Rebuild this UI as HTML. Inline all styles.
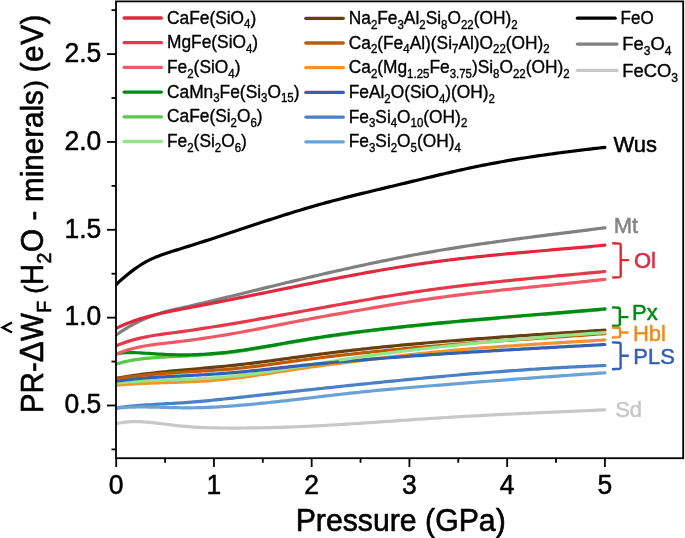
<!DOCTYPE html>
<html><head><meta charset="utf-8"><title>chart</title>
<style>html,body{margin:0;padding:0;background:#fff;}body{width:685px;height:538px;overflow:hidden;font-family:"Liberation Sans",sans-serif;}</style>
</head><body>
<svg width="685" height="538" viewBox="0 0 685 538" font-family='"Liberation Sans", sans-serif' style="display:block;will-change:transform">
<rect x="0" y="0" width="685" height="538" fill="#fff"/>
<defs><clipPath id="pc"><rect x="116.0" y="1.4" width="567.2" height="456.8"/></clipPath></defs>
<g fill="none" stroke-width="3.2" stroke-linecap="round" stroke-linejoin="round" clip-path="url(#pc)">
<path d="M116.2,423.61 L119.2,423.04 L122.2,422.55 L125.2,422.14 L128.2,421.84 L131.2,421.63 L134.2,421.53 L137.2,421.54 L140.2,421.64 L143.2,421.82 L146.2,422.05 L149.2,422.32 L152.2,422.62 L155.2,422.95 L158.2,423.29 L161.2,423.65 L164.2,424.02 L167.2,424.39 L170.2,424.76 L173.2,425.13 L176.2,425.48 L179.2,425.82 L182.2,426.14 L185.2,426.43 L188.2,426.69 L191.2,426.92 L194.2,427.12 L197.2,427.30 L200.2,427.45 L203.2,427.58 L206.2,427.68 L209.2,427.77 L212.2,427.84 L215.2,427.90 L218.2,427.94 L221.2,427.98 L224.2,428.00 L227.2,428.02 L230.2,428.03 L233.2,428.04 L236.2,428.03 L239.2,428.03 L242.2,428.01 L245.2,427.99 L248.2,427.96 L251.2,427.93 L254.2,427.89 L257.2,427.84 L260.2,427.79 L263.2,427.74 L266.2,427.67 L269.2,427.61 L272.2,427.53 L275.2,427.45 L278.2,427.37 L281.2,427.28 L284.2,427.18 L287.2,427.08 L290.2,426.98 L293.2,426.87 L296.2,426.75 L299.2,426.63 L302.2,426.51 L305.2,426.38 L308.2,426.24 L311.2,426.10 L314.2,425.96 L317.2,425.81 L320.2,425.66 L323.2,425.51 L326.2,425.35 L329.2,425.18 L332.2,425.02 L335.2,424.85 L338.2,424.67 L341.2,424.49 L344.2,424.31 L347.2,424.12 L350.2,423.94 L353.2,423.74 L356.2,423.55 L359.2,423.35 L362.2,423.16 L365.2,422.96 L368.2,422.75 L371.2,422.55 L374.2,422.34 L377.2,422.14 L380.2,421.93 L383.2,421.72 L386.2,421.51 L389.2,421.30 L392.2,421.09 L395.2,420.88 L398.2,420.67 L401.2,420.46 L404.2,420.25 L407.2,420.04 L410.2,419.83 L413.2,419.63 L416.2,419.42 L419.2,419.22 L422.2,419.01 L425.2,418.81 L428.2,418.62 L431.2,418.42 L434.2,418.23 L437.2,418.04 L440.2,417.85 L443.2,417.66 L446.2,417.48 L449.2,417.30 L452.2,417.12 L455.2,416.95 L458.2,416.77 L461.2,416.60 L464.2,416.43 L467.2,416.27 L470.2,416.10 L473.2,415.94 L476.2,415.78 L479.2,415.62 L482.2,415.47 L485.2,415.31 L488.2,415.16 L491.2,415.01 L494.2,414.86 L497.2,414.71 L500.2,414.56 L503.2,414.42 L506.2,414.27 L509.2,414.13 L512.2,413.99 L515.2,413.85 L518.2,413.71 L521.2,413.57 L524.2,413.43 L527.2,413.29 L530.2,413.16 L533.2,413.02 L536.2,412.89 L539.2,412.75 L542.2,412.62 L545.2,412.48 L548.2,412.35 L551.2,412.22 L554.2,412.08 L557.2,411.95 L560.2,411.82 L563.2,411.68 L566.2,411.55 L569.2,411.42 L572.2,411.29 L575.2,411.15 L578.2,411.02 L581.2,410.88 L584.2,410.75 L587.2,410.61 L590.2,410.48 L593.2,410.34 L596.2,410.20 L599.2,410.07 L602.2,409.93 L604.9,409.80" stroke="#C8C8C8"/>
<path d="M116.2,335.05 L119.2,332.95 L122.2,330.94 L125.2,329.03 L128.2,327.21 L131.2,325.48 L134.2,323.85 L137.2,322.30 L140.2,320.86 L143.2,319.50 L146.2,318.22 L149.2,317.03 L152.2,315.92 L155.2,314.88 L158.2,313.91 L161.2,313.01 L164.2,312.16 L167.2,311.36 L170.2,310.60 L173.2,309.87 L176.2,309.17 L179.2,308.49 L182.2,307.81 L185.2,307.14 L188.2,306.46 L191.2,305.78 L194.2,305.08 L197.2,304.38 L200.2,303.68 L203.2,302.97 L206.2,302.25 L209.2,301.53 L212.2,300.81 L215.2,300.08 L218.2,299.35 L221.2,298.62 L224.2,297.89 L227.2,297.16 L230.2,296.43 L233.2,295.69 L236.2,294.96 L239.2,294.23 L242.2,293.49 L245.2,292.76 L248.2,292.03 L251.2,291.29 L254.2,290.56 L257.2,289.83 L260.2,289.10 L263.2,288.37 L266.2,287.64 L269.2,286.91 L272.2,286.18 L275.2,285.45 L278.2,284.73 L281.2,284.00 L284.2,283.28 L287.2,282.56 L290.2,281.84 L293.2,281.12 L296.2,280.40 L299.2,279.69 L302.2,278.98 L305.2,278.27 L308.2,277.56 L311.2,276.86 L314.2,276.15 L317.2,275.45 L320.2,274.76 L323.2,274.06 L326.2,273.37 L329.2,272.68 L332.2,272.00 L335.2,271.31 L338.2,270.63 L341.2,269.96 L344.2,269.29 L347.2,268.62 L350.2,267.95 L353.2,267.29 L356.2,266.64 L359.2,265.98 L362.2,265.34 L365.2,264.69 L368.2,264.05 L371.2,263.42 L374.2,262.79 L377.2,262.16 L380.2,261.54 L383.2,260.92 L386.2,260.31 L389.2,259.71 L392.2,259.10 L395.2,258.51 L398.2,257.92 L401.2,257.33 L404.2,256.76 L407.2,256.18 L410.2,255.62 L413.2,255.05 L416.2,254.50 L419.2,253.95 L422.2,253.41 L425.2,252.87 L428.2,252.34 L431.2,251.82 L434.2,251.30 L437.2,250.79 L440.2,250.28 L443.2,249.78 L446.2,249.29 L449.2,248.80 L452.2,248.32 L455.2,247.84 L458.2,247.37 L461.2,246.90 L464.2,246.44 L467.2,245.98 L470.2,245.53 L473.2,245.08 L476.2,244.64 L479.2,244.20 L482.2,243.76 L485.2,243.33 L488.2,242.90 L491.2,242.48 L494.2,242.06 L497.2,241.64 L500.2,241.22 L503.2,240.81 L506.2,240.41 L509.2,240.00 L512.2,239.60 L515.2,239.20 L518.2,238.80 L521.2,238.41 L524.2,238.01 L527.2,237.62 L530.2,237.23 L533.2,236.85 L536.2,236.46 L539.2,236.08 L542.2,235.69 L545.2,235.31 L548.2,234.93 L551.2,234.56 L554.2,234.18 L557.2,233.80 L560.2,233.42 L563.2,233.05 L566.2,232.67 L569.2,232.30 L572.2,231.92 L575.2,231.54 L578.2,231.17 L581.2,230.79 L584.2,230.42 L587.2,230.04 L590.2,229.66 L593.2,229.28 L596.2,228.90 L599.2,228.52 L602.2,228.14 L604.9,227.80" stroke="#808080"/>
<path d="M116.2,284.45 L119.2,281.69 L122.2,279.03 L125.2,276.45 L128.2,273.98 L131.2,271.62 L134.2,269.37 L137.2,267.24 L140.2,265.25 L143.2,263.38 L146.2,261.66 L149.2,260.09 L152.2,258.66 L155.2,257.36 L158.2,256.16 L161.2,255.05 L164.2,254.00 L167.2,253.00 L170.2,252.02 L173.2,251.06 L176.2,250.12 L179.2,249.18 L182.2,248.25 L185.2,247.32 L188.2,246.39 L191.2,245.44 L194.2,244.50 L197.2,243.54 L200.2,242.58 L203.2,241.61 L206.2,240.64 L209.2,239.67 L212.2,238.69 L215.2,237.70 L218.2,236.72 L221.2,235.73 L224.2,234.74 L227.2,233.74 L230.2,232.75 L233.2,231.75 L236.2,230.76 L239.2,229.76 L242.2,228.77 L245.2,227.77 L248.2,226.77 L251.2,225.78 L254.2,224.79 L257.2,223.80 L260.2,222.82 L263.2,221.83 L266.2,220.85 L269.2,219.88 L272.2,218.91 L275.2,217.94 L278.2,216.98 L281.2,216.02 L284.2,215.07 L287.2,214.13 L290.2,213.19 L293.2,212.27 L296.2,211.34 L299.2,210.43 L302.2,209.53 L305.2,208.63 L308.2,207.75 L311.2,206.87 L314.2,206.00 L317.2,205.15 L320.2,204.31 L323.2,203.47 L326.2,202.65 L329.2,201.84 L332.2,201.03 L335.2,200.24 L338.2,199.45 L341.2,198.68 L344.2,197.90 L347.2,197.14 L350.2,196.38 L353.2,195.63 L356.2,194.89 L359.2,194.15 L362.2,193.41 L365.2,192.68 L368.2,191.95 L371.2,191.23 L374.2,190.51 L377.2,189.79 L380.2,189.07 L383.2,188.35 L386.2,187.64 L389.2,186.92 L392.2,186.21 L395.2,185.49 L398.2,184.77 L401.2,184.05 L404.2,183.33 L407.2,182.61 L410.2,181.88 L413.2,181.16 L416.2,180.43 L419.2,179.71 L422.2,178.98 L425.2,178.26 L428.2,177.54 L431.2,176.82 L434.2,176.10 L437.2,175.39 L440.2,174.68 L443.2,173.97 L446.2,173.27 L449.2,172.58 L452.2,171.89 L455.2,171.21 L458.2,170.53 L461.2,169.87 L464.2,169.21 L467.2,168.55 L470.2,167.91 L473.2,167.28 L476.2,166.65 L479.2,166.04 L482.2,165.44 L485.2,164.84 L488.2,164.26 L491.2,163.69 L494.2,163.12 L497.2,162.57 L500.2,162.02 L503.2,161.48 L506.2,160.95 L509.2,160.43 L512.2,159.92 L515.2,159.42 L518.2,158.92 L521.2,158.44 L524.2,157.96 L527.2,157.49 L530.2,157.02 L533.2,156.57 L536.2,156.12 L539.2,155.67 L542.2,155.24 L545.2,154.81 L548.2,154.39 L551.2,153.97 L554.2,153.56 L557.2,153.16 L560.2,152.76 L563.2,152.36 L566.2,151.98 L569.2,151.59 L572.2,151.22 L575.2,150.85 L578.2,150.48 L581.2,150.12 L584.2,149.76 L587.2,149.41 L590.2,149.06 L593.2,148.71 L596.2,148.37 L599.2,148.03 L602.2,147.70 L604.9,147.40" stroke="#000000"/>
<path d="M116.2,407.98 L119.2,407.55 L122.2,407.16 L125.2,406.80 L128.2,406.46 L131.2,406.15 L134.2,405.87 L137.2,405.61 L140.2,405.36 L143.2,405.14 L146.2,404.93 L149.2,404.73 L152.2,404.54 L155.2,404.36 L158.2,404.18 L161.2,404.01 L164.2,403.85 L167.2,403.68 L170.2,403.51 L173.2,403.34 L176.2,403.17 L179.2,402.98 L182.2,402.79 L185.2,402.59 L188.2,402.37 L191.2,402.15 L194.2,401.91 L197.2,401.65 L200.2,401.39 L203.2,401.12 L206.2,400.84 L209.2,400.55 L212.2,400.26 L215.2,399.96 L218.2,399.65 L221.2,399.34 L224.2,399.02 L227.2,398.70 L230.2,398.38 L233.2,398.05 L236.2,397.72 L239.2,397.40 L242.2,397.07 L245.2,396.74 L248.2,396.41 L251.2,396.09 L254.2,395.76 L257.2,395.43 L260.2,395.10 L263.2,394.77 L266.2,394.45 L269.2,394.12 L272.2,393.79 L275.2,393.46 L278.2,393.13 L281.2,392.81 L284.2,392.48 L287.2,392.15 L290.2,391.83 L293.2,391.50 L296.2,391.17 L299.2,390.85 L302.2,390.52 L305.2,390.20 L308.2,389.87 L311.2,389.55 L314.2,389.23 L317.2,388.90 L320.2,388.58 L323.2,388.26 L326.2,387.94 L329.2,387.62 L332.2,387.30 L335.2,386.98 L338.2,386.66 L341.2,386.34 L344.2,386.03 L347.2,385.71 L350.2,385.40 L353.2,385.09 L356.2,384.77 L359.2,384.46 L362.2,384.15 L365.2,383.84 L368.2,383.53 L371.2,383.23 L374.2,382.92 L377.2,382.62 L380.2,382.31 L383.2,382.01 L386.2,381.71 L389.2,381.41 L392.2,381.11 L395.2,380.82 L398.2,380.52 L401.2,380.23 L404.2,379.93 L407.2,379.64 L410.2,379.36 L413.2,379.07 L416.2,378.78 L419.2,378.50 L422.2,378.22 L425.2,377.93 L428.2,377.66 L431.2,377.38 L434.2,377.10 L437.2,376.83 L440.2,376.56 L443.2,376.29 L446.2,376.02 L449.2,375.76 L452.2,375.49 L455.2,375.23 L458.2,374.97 L461.2,374.71 L464.2,374.46 L467.2,374.21 L470.2,373.96 L473.2,373.71 L476.2,373.46 L479.2,373.22 L482.2,372.98 L485.2,372.74 L488.2,372.50 L491.2,372.27 L494.2,372.03 L497.2,371.81 L500.2,371.58 L503.2,371.35 L506.2,371.13 L509.2,370.91 L512.2,370.70 L515.2,370.48 L518.2,370.27 L521.2,370.07 L524.2,369.86 L527.2,369.66 L530.2,369.46 L533.2,369.26 L536.2,369.07 L539.2,368.88 L542.2,368.69 L545.2,368.51 L548.2,368.33 L551.2,368.15 L554.2,367.97 L557.2,367.80 L560.2,367.63 L563.2,367.47 L566.2,367.30 L569.2,367.14 L572.2,366.99 L575.2,366.84 L578.2,366.69 L581.2,366.54 L584.2,366.40 L587.2,366.26 L590.2,366.13 L593.2,365.99 L596.2,365.87 L599.2,365.74 L602.2,365.62 L604.9,365.52" stroke="#4A80C6"/>
<path d="M116.2,408.12 L119.2,407.84 L122.2,407.61 L125.2,407.41 L128.2,407.26 L131.2,407.14 L134.2,407.06 L137.2,407.00 L140.2,406.98 L143.2,406.97 L146.2,406.99 L149.2,407.03 L152.2,407.08 L155.2,407.14 L158.2,407.21 L161.2,407.29 L164.2,407.37 L167.2,407.46 L170.2,407.54 L173.2,407.62 L176.2,407.68 L179.2,407.74 L182.2,407.78 L185.2,407.81 L188.2,407.81 L191.2,407.80 L194.2,407.76 L197.2,407.71 L200.2,407.64 L203.2,407.55 L206.2,407.44 L209.2,407.32 L212.2,407.19 L215.2,407.03 L218.2,406.87 L221.2,406.69 L224.2,406.50 L227.2,406.30 L230.2,406.08 L233.2,405.86 L236.2,405.62 L239.2,405.38 L242.2,405.12 L245.2,404.86 L248.2,404.60 L251.2,404.32 L254.2,404.04 L257.2,403.74 L260.2,403.45 L263.2,403.14 L266.2,402.84 L269.2,402.52 L272.2,402.20 L275.2,401.88 L278.2,401.55 L281.2,401.21 L284.2,400.88 L287.2,400.54 L290.2,400.19 L293.2,399.85 L296.2,399.50 L299.2,399.15 L302.2,398.80 L305.2,398.44 L308.2,398.09 L311.2,397.73 L314.2,397.38 L317.2,397.02 L320.2,396.67 L323.2,396.31 L326.2,395.96 L329.2,395.61 L332.2,395.26 L335.2,394.91 L338.2,394.56 L341.2,394.22 L344.2,393.88 L347.2,393.54 L350.2,393.21 L353.2,392.88 L356.2,392.56 L359.2,392.24 L362.2,391.93 L365.2,391.62 L368.2,391.32 L371.2,391.02 L374.2,390.73 L377.2,390.44 L380.2,390.15 L383.2,389.87 L386.2,389.60 L389.2,389.33 L392.2,389.06 L395.2,388.79 L398.2,388.53 L401.2,388.27 L404.2,388.01 L407.2,387.76 L410.2,387.51 L413.2,387.25 L416.2,387.01 L419.2,386.76 L422.2,386.51 L425.2,386.26 L428.2,386.02 L431.2,385.77 L434.2,385.53 L437.2,385.29 L440.2,385.04 L443.2,384.80 L446.2,384.56 L449.2,384.32 L452.2,384.08 L455.2,383.84 L458.2,383.60 L461.2,383.36 L464.2,383.12 L467.2,382.89 L470.2,382.65 L473.2,382.42 L476.2,382.18 L479.2,381.95 L482.2,381.71 L485.2,381.48 L488.2,381.25 L491.2,381.02 L494.2,380.79 L497.2,380.56 L500.2,380.33 L503.2,380.10 L506.2,379.87 L509.2,379.65 L512.2,379.42 L515.2,379.19 L518.2,378.97 L521.2,378.75 L524.2,378.52 L527.2,378.30 L530.2,378.08 L533.2,377.86 L536.2,377.64 L539.2,377.42 L542.2,377.20 L545.2,376.98 L548.2,376.76 L551.2,376.55 L554.2,376.33 L557.2,376.12 L560.2,375.90 L563.2,375.69 L566.2,375.48 L569.2,375.26 L572.2,375.05 L575.2,374.84 L578.2,374.63 L581.2,374.42 L584.2,374.22 L587.2,374.01 L590.2,373.80 L593.2,373.60 L596.2,373.39 L599.2,373.19 L602.2,372.99 L604.9,372.80" stroke="#69A2D6"/>
<path d="M116.2,385.28 L119.2,385.00 L122.2,384.73 L125.2,384.49 L128.2,384.27 L131.2,384.07 L134.2,383.89 L137.2,383.72 L140.2,383.56 L143.2,383.42 L146.2,383.29 L149.2,383.17 L152.2,383.06 L155.2,382.96 L158.2,382.86 L161.2,382.76 L164.2,382.67 L167.2,382.58 L170.2,382.49 L173.2,382.39 L176.2,382.30 L179.2,382.19 L182.2,382.08 L185.2,381.97 L188.2,381.84 L191.2,381.70 L194.2,381.55 L197.2,381.39 L200.2,381.22 L203.2,381.04 L206.2,380.84 L209.2,380.63 L212.2,380.40 L215.2,380.16 L218.2,379.91 L221.2,379.64 L224.2,379.35 L227.2,379.05 L230.2,378.73 L233.2,378.39 L236.2,378.04 L239.2,377.67 L242.2,377.29 L245.2,376.90 L248.2,376.49 L251.2,376.08 L254.2,375.65 L257.2,375.22 L260.2,374.77 L263.2,374.33 L266.2,373.87 L269.2,373.41 L272.2,372.95 L275.2,372.48 L278.2,372.01 L281.2,371.54 L284.2,371.07 L287.2,370.61 L290.2,370.14 L293.2,369.68 L296.2,369.23 L299.2,368.78 L302.2,368.33 L305.2,367.89 L308.2,367.46 L311.2,367.04 L314.2,366.62 L317.2,366.21 L320.2,365.80 L323.2,365.39 L326.2,364.99 L329.2,364.60 L332.2,364.21 L335.2,363.82 L338.2,363.44 L341.2,363.06 L344.2,362.68 L347.2,362.30 L350.2,361.93 L353.2,361.55 L356.2,361.18 L359.2,360.81 L362.2,360.44 L365.2,360.07 L368.2,359.70 L371.2,359.33 L374.2,358.96 L377.2,358.60 L380.2,358.23 L383.2,357.87 L386.2,357.50 L389.2,357.14 L392.2,356.78 L395.2,356.43 L398.2,356.07 L401.2,355.72 L404.2,355.38 L407.2,355.03 L410.2,354.69 L413.2,354.36 L416.2,354.03 L419.2,353.70 L422.2,353.38 L425.2,353.06 L428.2,352.75 L431.2,352.45 L434.2,352.14 L437.2,351.85 L440.2,351.56 L443.2,351.27 L446.2,350.99 L449.2,350.72 L452.2,350.45 L455.2,350.18 L458.2,349.92 L461.2,349.66 L464.2,349.40 L467.2,349.15 L470.2,348.90 L473.2,348.66 L476.2,348.42 L479.2,348.19 L482.2,347.95 L485.2,347.72 L488.2,347.50 L491.2,347.27 L494.2,347.05 L497.2,346.84 L500.2,346.62 L503.2,346.41 L506.2,346.20 L509.2,345.99 L512.2,345.79 L515.2,345.58 L518.2,345.38 L521.2,345.18 L524.2,344.98 L527.2,344.79 L530.2,344.59 L533.2,344.40 L536.2,344.21 L539.2,344.02 L542.2,343.83 L545.2,343.64 L548.2,343.45 L551.2,343.26 L554.2,343.08 L557.2,342.89 L560.2,342.70 L563.2,342.52 L566.2,342.33 L569.2,342.15 L572.2,341.96 L575.2,341.77 L578.2,341.59 L581.2,341.40 L584.2,341.21 L587.2,341.03 L590.2,340.84 L593.2,340.65 L596.2,340.46 L599.2,340.27 L602.2,340.07 L604.9,339.90" stroke="#F2942C"/>
<path d="M116.2,383.23 L119.2,382.89 L122.2,382.58 L125.2,382.29 L128.2,382.03 L131.2,381.78 L134.2,381.56 L137.2,381.35 L140.2,381.17 L143.2,380.99 L146.2,380.84 L149.2,380.69 L152.2,380.56 L155.2,380.43 L158.2,380.32 L161.2,380.21 L164.2,380.10 L167.2,380.00 L170.2,379.90 L173.2,379.80 L176.2,379.70 L179.2,379.59 L182.2,379.49 L185.2,379.37 L188.2,379.25 L191.2,379.12 L194.2,378.98 L197.2,378.84 L200.2,378.68 L203.2,378.51 L206.2,378.34 L209.2,378.15 L212.2,377.95 L215.2,377.74 L218.2,377.51 L221.2,377.27 L224.2,377.02 L227.2,376.76 L230.2,376.48 L233.2,376.18 L236.2,375.87 L239.2,375.54 L242.2,375.20 L245.2,374.84 L248.2,374.47 L251.2,374.09 L254.2,373.69 L257.2,373.28 L260.2,372.86 L263.2,372.43 L266.2,371.99 L269.2,371.54 L272.2,371.08 L275.2,370.61 L278.2,370.14 L281.2,369.66 L284.2,369.18 L287.2,368.69 L290.2,368.20 L293.2,367.71 L296.2,367.21 L299.2,366.72 L302.2,366.22 L305.2,365.72 L308.2,365.22 L311.2,364.72 L314.2,364.23 L317.2,363.73 L320.2,363.24 L323.2,362.75 L326.2,362.26 L329.2,361.77 L332.2,361.28 L335.2,360.80 L338.2,360.32 L341.2,359.85 L344.2,359.37 L345.0,359.25" stroke="#96E38C" stroke-linecap="butt"/>
<path d="M116.2,378.23 L119.2,377.72 L122.2,377.22 L125.2,376.75 L128.2,376.29 L131.2,375.84 L134.2,375.42 L137.2,375.00 L140.2,374.60 L143.2,374.21 L146.2,373.84 L149.2,373.47 L152.2,373.12 L155.2,372.78 L158.2,372.45 L161.2,372.13 L164.2,371.81 L167.2,371.51 L170.2,371.21 L173.2,370.92 L176.2,370.63 L179.2,370.35 L182.2,370.07 L185.2,369.80 L188.2,369.53 L191.2,369.26 L194.2,369.00 L197.2,368.73 L200.2,368.47 L203.2,368.20 L206.2,367.94 L209.2,367.67 L212.2,367.40 L215.2,367.12 L218.2,366.85 L221.2,366.56 L224.2,366.27 L227.2,365.97 L230.2,365.67 L233.2,365.36 L236.2,365.04 L239.2,364.70 L242.2,364.36 L245.2,364.01 L248.2,363.66 L251.2,363.29 L254.2,362.92 L257.2,362.54 L260.2,362.15 L263.2,361.76 L266.2,361.37 L269.2,360.97 L272.2,360.57 L275.2,360.16 L278.2,359.75 L281.2,359.34 L284.2,358.93 L287.2,358.52 L290.2,358.11 L293.2,357.71 L296.2,357.30 L299.2,356.89 L302.2,356.49 L305.2,356.09 L308.2,355.70 L311.2,355.30 L314.2,354.91 L317.2,354.53 L320.2,354.14 L323.2,353.76 L326.2,353.39 L329.2,353.01 L332.2,352.65 L335.2,352.28 L338.2,351.92 L341.2,351.56 L344.2,351.20 L347.2,350.85 L350.2,350.50 L353.2,350.16 L356.2,349.82 L359.2,349.49 L362.2,349.15 L365.2,348.83 L368.2,348.50 L371.2,348.18 L374.2,347.87 L377.2,347.56 L380.2,347.25 L383.2,346.94 L386.2,346.64 L389.2,346.35 L392.2,346.05 L395.2,345.76 L398.2,345.47 L401.2,345.19 L404.2,344.91 L407.2,344.63 L410.2,344.36 L413.2,344.08 L416.2,343.82 L419.2,343.55 L422.2,343.29 L425.2,343.02 L428.2,342.77 L431.2,342.51 L434.2,342.26 L437.2,342.00 L440.2,341.76 L443.2,341.51 L446.2,341.26 L449.2,341.02 L452.2,340.78 L455.2,340.54 L458.2,340.31 L461.2,340.07 L464.2,339.84 L467.2,339.61 L470.2,339.38 L473.2,339.15 L476.2,338.93 L479.2,338.70 L482.2,338.48 L485.2,338.26 L488.2,338.04 L491.2,337.82 L494.2,337.61 L497.2,337.39 L500.2,337.18 L503.2,336.97 L506.2,336.76 L509.2,336.55 L512.2,336.34 L515.2,336.13 L518.2,335.92 L521.2,335.71 L524.2,335.51 L527.2,335.30 L530.2,335.10 L533.2,334.90 L536.2,334.69 L539.2,334.49 L542.2,334.29 L545.2,334.09 L548.2,333.89 L551.2,333.69 L554.2,333.49 L557.2,333.29 L560.2,333.09 L563.2,332.89 L566.2,332.69 L569.2,332.49 L572.2,332.29 L575.2,332.09 L578.2,331.89 L581.2,331.69 L584.2,331.49 L587.2,331.29 L590.2,331.09 L593.2,330.89 L596.2,330.69 L599.2,330.49 L602.2,330.29 L604.9,330.10" stroke="#66400E"/>
<path d="M116.2,381.23 L119.2,380.79 L122.2,380.38 L125.2,379.99 L128.2,379.63 L131.2,379.30 L134.2,378.99 L137.2,378.69 L140.2,378.42 L143.2,378.17 L146.2,377.93 L149.2,377.71 L152.2,377.50 L155.2,377.31 L158.2,377.12 L161.2,376.95 L164.2,376.78 L167.2,376.62 L170.2,376.47 L173.2,376.32 L176.2,376.17 L179.2,376.03 L182.2,375.88 L185.2,375.73 L188.2,375.58 L191.2,375.43 L194.2,375.27 L197.2,375.10 L200.2,374.94 L203.2,374.76 L206.2,374.58 L209.2,374.40 L212.2,374.20 L215.2,374.00 L218.2,373.80 L221.2,373.58 L224.2,373.36 L227.2,373.13 L230.2,372.89 L233.2,372.64 L236.2,372.39 L239.2,372.12 L242.2,371.84 L245.2,371.56 L248.2,371.26 L251.2,370.96 L254.2,370.65 L257.2,370.34 L260.2,370.02 L263.2,369.70 L266.2,369.37 L269.2,369.04 L272.2,368.71 L275.2,368.38 L278.2,368.04 L281.2,367.71 L284.2,367.37 L287.2,367.04 L290.2,366.71 L293.2,366.38 L296.2,366.05 L299.2,365.73 L302.2,365.42 L305.2,365.11 L308.2,364.80 L311.2,364.50 L314.2,364.20 L317.2,363.91 L320.2,363.62 L323.2,363.33 L326.2,363.05 L329.2,362.77 L332.2,362.50 L335.2,362.23 L338.2,361.96 L341.2,361.70 L344.2,361.44 L347.2,361.18 L350.2,360.92 L353.2,360.67 L356.2,360.41 L359.2,360.16 L362.2,359.92 L365.2,359.67 L368.2,359.43 L371.2,359.18 L374.2,358.94 L377.2,358.70 L380.2,358.47 L383.2,358.23 L386.2,358.00 L389.2,357.77 L392.2,357.53 L395.2,357.31 L398.2,357.08 L401.2,356.86 L404.2,356.63 L407.2,356.41 L410.2,356.19 L413.2,355.97 L416.2,355.76 L419.2,355.54 L422.2,355.33 L425.2,355.12 L428.2,354.91 L431.2,354.71 L434.2,354.50 L437.2,354.30 L440.2,354.10 L443.2,353.90 L446.2,353.70 L449.2,353.50 L452.2,353.30 L455.2,353.11 L458.2,352.92 L461.2,352.73 L464.2,352.54 L467.2,352.35 L470.2,352.16 L473.2,351.97 L476.2,351.79 L479.2,351.61 L482.2,351.42 L485.2,351.24 L488.2,351.06 L491.2,350.88 L494.2,350.71 L497.2,350.53 L500.2,350.35 L503.2,350.18 L506.2,350.00 L509.2,349.83 L512.2,349.66 L515.2,349.48 L518.2,349.31 L521.2,349.14 L524.2,348.97 L527.2,348.80 L530.2,348.63 L533.2,348.46 L536.2,348.30 L539.2,348.13 L542.2,347.96 L545.2,347.80 L548.2,347.63 L551.2,347.46 L554.2,347.30 L557.2,347.13 L560.2,346.97 L563.2,346.80 L566.2,346.64 L569.2,346.47 L572.2,346.31 L575.2,346.14 L578.2,345.98 L581.2,345.81 L584.2,345.65 L587.2,345.48 L590.2,345.32 L593.2,345.15 L596.2,344.98 L599.2,344.82 L602.2,344.65 L604.9,344.50" stroke="#3560B4"/>
<path d="M116.2,378.63 L119.2,378.18 L122.2,377.75 L125.2,377.34 L128.2,376.94 L131.2,376.57 L134.2,376.22 L137.2,375.88 L140.2,375.55 L143.2,375.25 L146.2,374.95 L149.2,374.68 L152.2,374.41 L155.2,374.15 L158.2,373.91 L161.2,373.68 L164.2,373.45 L167.2,373.24 L170.2,373.03 L173.2,372.83 L176.2,372.63 L179.2,372.44 L182.2,372.26 L185.2,372.07 L188.2,371.89 L191.2,371.71 L194.2,371.54 L197.2,371.36 L200.2,371.18 L203.2,370.99 L206.2,370.81 L209.2,370.62 L212.2,370.42 L215.2,370.22 L218.2,370.00 L221.2,369.79 L224.2,369.56 L227.2,369.32 L230.2,369.06 L233.2,368.80 L236.2,368.52 L239.2,368.23 L242.2,367.92 L245.2,367.60 L248.2,367.26 L251.2,366.91 L254.2,366.55 L257.2,366.17 L260.2,365.79 L263.2,365.40 L266.2,365.00 L269.2,364.59 L272.2,364.18 L275.2,363.77 L278.2,363.35 L281.2,362.93 L284.2,362.51 L287.2,362.09 L290.2,361.67 L293.2,361.25 L296.2,360.84 L299.2,360.43 L302.2,360.03 L305.2,359.63 L308.2,359.24 L311.2,358.85 L314.2,358.47 L317.2,358.10 L320.2,357.73 L323.2,357.36 L326.2,357.00 L329.2,356.64 L332.2,356.29 L335.2,355.94 L338.2,355.60 L341.2,355.25 L344.2,354.92 L347.2,354.58 L350.2,354.25 L353.2,353.92 L356.2,353.59 L359.2,353.27 L362.2,352.95 L365.2,352.63 L368.2,352.31 L371.2,352.00 L374.2,351.68 L377.2,351.37 L380.2,351.06 L383.2,350.76 L386.2,350.45 L389.2,350.15 L392.2,349.86 L395.2,349.56 L398.2,349.27 L401.2,348.98 L404.2,348.69 L407.2,348.40 L410.2,348.12 L413.2,347.84 L416.2,347.57 L419.2,347.29 L422.2,347.02 L425.2,346.76 L428.2,346.49 L431.2,346.23 L434.2,345.98 L437.2,345.72 L440.2,345.47 L443.2,345.22 L446.2,344.98 L449.2,344.73 L452.2,344.49 L455.2,344.25 L458.2,344.02 L461.2,343.78 L464.2,343.55 L467.2,343.32 L470.2,343.10 L473.2,342.87 L476.2,342.65 L479.2,342.42 L482.2,342.20 L485.2,341.98 L488.2,341.77 L491.2,341.55 L494.2,341.34 L497.2,341.12 L500.2,340.91 L503.2,340.70 L506.2,340.49 L509.2,340.28 L512.2,340.07 L515.2,339.87 L518.2,339.66 L521.2,339.45 L524.2,339.25 L527.2,339.04 L530.2,338.84 L533.2,338.63 L536.2,338.43 L539.2,338.22 L542.2,338.02 L545.2,337.81 L548.2,337.61 L551.2,337.40 L554.2,337.20 L557.2,336.99 L560.2,336.79 L563.2,336.58 L566.2,336.37 L569.2,336.16 L572.2,335.96 L575.2,335.75 L578.2,335.53 L581.2,335.32 L584.2,335.11 L587.2,334.89 L590.2,334.68 L593.2,334.46 L596.2,334.24 L599.2,334.02 L602.2,333.80 L604.9,333.60" stroke="#BE5A06"/>
<path d="M340.0,360.03 L343.0,359.56 L346.0,359.09 L349.0,358.63 L352.0,358.17 L355.0,357.71 L358.0,357.26 L361.0,356.82 L364.0,356.38 L367.0,355.95 L370.0,355.52 L373.0,355.10 L376.0,354.69 L379.0,354.28 L382.0,353.87 L385.0,353.47 L388.0,353.08 L391.0,352.69 L394.0,352.30 L397.0,351.92 L400.0,351.54 L403.0,351.17 L406.0,350.80 L409.0,350.44 L412.0,350.08 L415.0,349.72 L418.0,349.37 L421.0,349.02 L424.0,348.67 L427.0,348.33 L430.0,347.99 L433.0,347.65 L436.0,347.31 L439.0,346.98 L442.0,346.65 L445.0,346.33 L448.0,346.00 L451.0,345.68 L454.0,345.37 L457.0,345.05 L460.0,344.74 L463.0,344.43 L466.0,344.12 L469.0,343.82 L472.0,343.52 L475.0,343.22 L478.0,342.93 L481.0,342.63 L484.0,342.34 L487.0,342.05 L490.0,341.77 L493.0,341.49 L496.0,341.21 L499.0,340.93 L502.0,340.65 L505.0,340.38 L508.0,340.11 L511.0,339.84 L514.0,339.58 L517.0,339.32 L520.0,339.06 L523.0,338.80 L526.0,338.54 L529.0,338.29 L532.0,338.04 L535.0,337.79 L538.0,337.54 L541.0,337.30 L544.0,337.06 L547.0,336.82 L550.0,336.58 L553.0,336.35 L556.0,336.11 L559.0,335.88 L562.0,335.65 L565.0,335.43 L568.0,335.20 L571.0,334.98 L574.0,334.76 L577.0,334.54 L580.0,334.32 L583.0,334.11 L586.0,333.89 L589.0,333.68 L592.0,333.47 L595.0,333.27 L598.0,333.06 L601.0,332.86 L604.0,332.66 L604.9,332.60" stroke="#96E38C"/>
<path d="M116.2,364.14 L119.2,363.22 L122.2,362.39 L125.2,361.65 L128.2,361.00 L131.2,360.41 L134.2,359.90 L137.2,359.44 L140.2,359.04 L143.2,358.69 L146.2,358.38 L149.2,358.10 L152.2,357.84 L155.2,357.61 L158.2,357.41 L161.2,357.22 L164.2,357.04 L167.2,356.88 L170.2,356.73 L173.2,356.59 L176.2,356.45 L179.2,356.31 L182.2,356.17 L185.2,356.03 L188.2,355.88 L191.2,355.72 L194.2,355.55 L197.2,355.37 L200.2,355.18 L203.2,354.97 L206.2,354.75 L209.2,354.52 L212.2,354.28 L215.2,354.01 L218.2,353.74 L221.2,353.44 L224.2,353.12 L227.2,352.79 L230.2,352.44 L233.2,352.07 L236.2,351.68 L239.2,351.27 L242.2,350.85 L245.2,350.41 L248.2,349.95 L251.2,349.48 L254.2,348.99 L257.2,348.50 L260.2,347.99 L263.2,347.48 L266.2,346.96 L269.2,346.43 L272.2,345.90 L275.2,345.36 L278.2,344.82 L281.2,344.28 L284.2,343.74 L287.2,343.20 L290.2,342.67 L293.2,342.14 L296.2,341.61 L299.2,341.09 L302.2,340.58 L305.2,340.08 L308.2,339.59 L311.2,339.10 L314.2,338.62 L317.2,338.15 L320.2,337.69 L323.2,337.23 L326.2,336.78 L329.2,336.34 L332.2,335.90 L335.2,335.47 L338.2,335.05 L341.2,334.63 L344.2,334.22 L347.2,333.82 L350.2,333.42 L353.2,333.02 L356.2,332.64 L359.2,332.25 L362.2,331.87 L365.2,331.50 L368.2,331.13 L371.2,330.77 L374.2,330.41 L377.2,330.05 L380.2,329.70 L383.2,329.35 L386.2,329.01 L389.2,328.67 L392.2,328.34 L395.2,328.01 L398.2,327.68 L401.2,327.35 L404.2,327.03 L407.2,326.71 L410.2,326.40 L413.2,326.09 L416.2,325.78 L419.2,325.47 L422.2,325.17 L425.2,324.87 L428.2,324.57 L431.2,324.28 L434.2,323.99 L437.2,323.70 L440.2,323.41 L443.2,323.12 L446.2,322.84 L449.2,322.56 L452.2,322.28 L455.2,322.00 L458.2,321.72 L461.2,321.45 L464.2,321.18 L467.2,320.91 L470.2,320.64 L473.2,320.37 L476.2,320.11 L479.2,319.84 L482.2,319.58 L485.2,319.32 L488.2,319.06 L491.2,318.80 L494.2,318.55 L497.2,318.29 L500.2,318.03 L503.2,317.78 L506.2,317.53 L509.2,317.27 L512.2,317.02 L515.2,316.77 L518.2,316.52 L521.2,316.27 L524.2,316.02 L527.2,315.77 L530.2,315.52 L533.2,315.28 L536.2,315.03 L539.2,314.78 L542.2,314.53 L545.2,314.29 L548.2,314.04 L551.2,313.79 L554.2,313.55 L557.2,313.30 L560.2,313.05 L563.2,312.80 L566.2,312.56 L569.2,312.31 L572.2,312.06 L575.2,311.81 L578.2,311.56 L581.2,311.31 L584.2,311.06 L587.2,310.80 L590.2,310.55 L593.2,310.30 L596.2,310.04 L599.2,309.79 L602.2,309.53 L604.9,309.30" stroke="#5AC84A"/>
<path d="M116.2,353.99 L119.2,353.40 L122.2,352.98 L125.2,352.72 L128.2,352.60 L131.2,352.58 L134.2,352.64 L137.2,352.76 L140.2,352.91 L143.2,353.08 L146.2,353.26 L149.2,353.45 L152.2,353.65 L155.2,353.84 L158.2,354.03 L161.2,354.20 L164.2,354.36 L167.2,354.50 L170.2,354.62 L173.2,354.71 L176.2,354.77 L179.2,354.81 L182.2,354.83 L185.2,354.82 L188.2,354.79 L191.2,354.73 L194.2,354.65 L197.2,354.55 L200.2,354.42 L203.2,354.27 L206.2,354.09 L209.2,353.89 L212.2,353.67 L215.2,353.43 L218.2,353.16 L221.2,352.87 L224.2,352.56 L227.2,352.22 L230.2,351.87 L233.2,351.49 L236.2,351.10 L239.2,350.69 L242.2,350.26 L245.2,349.82 L248.2,349.36 L251.2,348.89 L254.2,348.41 L257.2,347.92 L260.2,347.42 L263.2,346.91 L266.2,346.40 L269.2,345.88 L272.2,345.35 L275.2,344.82 L278.2,344.29 L281.2,343.76 L284.2,343.23 L287.2,342.69 L290.2,342.17 L293.2,341.64 L296.2,341.12 L299.2,340.61 L302.2,340.10 L305.2,339.60 L308.2,339.11 L311.2,338.63 L314.2,338.15 L317.2,337.68 L320.2,337.22 L323.2,336.76 L326.2,336.31 L329.2,335.86 L332.2,335.43 L335.2,335.00 L338.2,334.57 L341.2,334.15 L344.2,333.74 L347.2,333.33 L350.2,332.93 L353.2,332.53 L356.2,332.14 L359.2,331.76 L362.2,331.38 L365.2,331.00 L368.2,330.63 L371.2,330.27 L374.2,329.90 L377.2,329.55 L380.2,329.20 L383.2,328.85 L386.2,328.51 L389.2,328.17 L392.2,327.83 L395.2,327.50 L398.2,327.17 L401.2,326.85 L404.2,326.53 L407.2,326.21 L410.2,325.90 L413.2,325.58 L416.2,325.28 L419.2,324.97 L422.2,324.67 L425.2,324.37 L428.2,324.07 L431.2,323.78 L434.2,323.49 L437.2,323.20 L440.2,322.91 L443.2,322.62 L446.2,322.34 L449.2,322.06 L452.2,321.78 L455.2,321.50 L458.2,321.23 L461.2,320.95 L464.2,320.68 L467.2,320.41 L470.2,320.14 L473.2,319.87 L476.2,319.61 L479.2,319.35 L482.2,319.08 L485.2,318.82 L488.2,318.56 L491.2,318.30 L494.2,318.05 L497.2,317.79 L500.2,317.53 L503.2,317.28 L506.2,317.03 L509.2,316.77 L512.2,316.52 L515.2,316.27 L518.2,316.02 L521.2,315.77 L524.2,315.52 L527.2,315.27 L530.2,315.02 L533.2,314.78 L536.2,314.53 L539.2,314.28 L542.2,314.03 L545.2,313.79 L548.2,313.54 L551.2,313.29 L554.2,313.04 L557.2,312.80 L560.2,312.55 L563.2,312.30 L566.2,312.05 L569.2,311.81 L572.2,311.56 L575.2,311.31 L578.2,311.06 L581.2,310.81 L584.2,310.55 L587.2,310.30 L590.2,310.05 L593.2,309.80 L596.2,309.54 L599.2,309.29 L602.2,309.03 L604.9,308.80" stroke="#008A14"/>
<path d="M116.2,354.22 L119.2,352.98 L122.2,351.85 L125.2,350.81 L128.2,349.86 L131.2,349.00 L134.2,348.21 L137.2,347.50 L140.2,346.85 L143.2,346.26 L146.2,345.73 L149.2,345.24 L152.2,344.80 L155.2,344.39 L158.2,344.01 L161.2,343.66 L164.2,343.31 L167.2,342.97 L170.2,342.64 L173.2,342.30 L176.2,341.96 L179.2,341.61 L182.2,341.25 L185.2,340.88 L188.2,340.49 L191.2,340.09 L194.2,339.68 L197.2,339.25 L200.2,338.82 L203.2,338.37 L206.2,337.92 L209.2,337.46 L212.2,336.99 L215.2,336.52 L218.2,336.04 L221.2,335.55 L224.2,335.06 L227.2,334.56 L230.2,334.06 L233.2,333.54 L236.2,333.02 L239.2,332.50 L242.2,331.96 L245.2,331.41 L248.2,330.86 L251.2,330.29 L254.2,329.72 L257.2,329.15 L260.2,328.57 L263.2,327.98 L266.2,327.39 L269.2,326.80 L272.2,326.21 L275.2,325.62 L278.2,325.02 L281.2,324.43 L284.2,323.83 L287.2,323.24 L290.2,322.65 L293.2,322.07 L296.2,321.48 L299.2,320.91 L302.2,320.34 L305.2,319.77 L308.2,319.21 L311.2,318.66 L314.2,318.11 L317.2,317.56 L320.2,317.02 L323.2,316.49 L326.2,315.96 L329.2,315.43 L332.2,314.90 L335.2,314.38 L338.2,313.85 L341.2,313.34 L344.2,312.82 L347.2,312.30 L350.2,311.79 L353.2,311.28 L356.2,310.76 L359.2,310.25 L362.2,309.74 L365.2,309.23 L368.2,308.72 L371.2,308.20 L374.2,307.69 L377.2,307.18 L380.2,306.68 L383.2,306.17 L386.2,305.67 L389.2,305.16 L392.2,304.67 L395.2,304.17 L398.2,303.68 L401.2,303.19 L404.2,302.71 L407.2,302.23 L410.2,301.76 L413.2,301.29 L416.2,300.83 L419.2,300.38 L422.2,299.93 L425.2,299.48 L428.2,299.05 L431.2,298.62 L434.2,298.20 L437.2,297.79 L440.2,297.38 L443.2,296.98 L446.2,296.58 L449.2,296.19 L452.2,295.80 L455.2,295.43 L458.2,295.05 L461.2,294.68 L464.2,294.32 L467.2,293.96 L470.2,293.61 L473.2,293.26 L476.2,292.91 L479.2,292.57 L482.2,292.23 L485.2,291.89 L488.2,291.56 L491.2,291.23 L494.2,290.91 L497.2,290.59 L500.2,290.27 L503.2,289.95 L506.2,289.63 L509.2,289.32 L512.2,289.01 L515.2,288.70 L518.2,288.39 L521.2,288.08 L524.2,287.78 L527.2,287.47 L530.2,287.17 L533.2,286.86 L536.2,286.56 L539.2,286.26 L542.2,285.96 L545.2,285.65 L548.2,285.35 L551.2,285.04 L554.2,284.74 L557.2,284.43 L560.2,284.13 L563.2,283.82 L566.2,283.51 L569.2,283.20 L572.2,282.89 L575.2,282.57 L578.2,282.25 L581.2,281.93 L584.2,281.61 L587.2,281.29 L590.2,280.96 L593.2,280.63 L596.2,280.29 L599.2,279.95 L602.2,279.61 L604.9,279.30" stroke="#EE5A66"/>
<path d="M116.2,345.82 L119.2,344.59 L122.2,343.44 L125.2,342.37 L128.2,341.38 L131.2,340.47 L134.2,339.63 L137.2,338.85 L140.2,338.13 L143.2,337.46 L146.2,336.84 L149.2,336.27 L152.2,335.74 L155.2,335.24 L158.2,334.78 L161.2,334.33 L164.2,333.92 L167.2,333.51 L170.2,333.12 L173.2,332.73 L176.2,332.35 L179.2,331.96 L182.2,331.57 L185.2,331.16 L188.2,330.73 L191.2,330.29 L194.2,329.84 L197.2,329.37 L200.2,328.90 L203.2,328.43 L206.2,327.95 L209.2,327.48 L212.2,327.01 L215.2,326.54 L218.2,326.06 L221.2,325.59 L224.2,325.10 L227.2,324.61 L230.2,324.11 L233.2,323.61 L236.2,323.10 L239.2,322.59 L242.2,322.07 L245.2,321.55 L248.2,321.03 L251.2,320.51 L254.2,319.98 L257.2,319.45 L260.2,318.92 L263.2,318.38 L266.2,317.85 L269.2,317.31 L272.2,316.77 L275.2,316.23 L278.2,315.68 L281.2,315.14 L284.2,314.59 L287.2,314.05 L290.2,313.50 L293.2,312.95 L296.2,312.40 L299.2,311.85 L302.2,311.30 L305.2,310.76 L308.2,310.21 L311.2,309.66 L314.2,309.11 L317.2,308.56 L320.2,308.01 L323.2,307.47 L326.2,306.92 L329.2,306.38 L332.2,305.83 L335.2,305.29 L338.2,304.75 L341.2,304.21 L344.2,303.68 L347.2,303.14 L350.2,302.61 L353.2,302.08 L356.2,301.55 L359.2,301.03 L362.2,300.51 L365.2,299.99 L368.2,299.47 L371.2,298.96 L374.2,298.45 L377.2,297.95 L380.2,297.45 L383.2,296.95 L386.2,296.46 L389.2,295.97 L392.2,295.48 L395.2,295.00 L398.2,294.53 L401.2,294.05 L404.2,293.59 L407.2,293.13 L410.2,292.67 L413.2,292.22 L416.2,291.78 L419.2,291.34 L422.2,290.90 L425.2,290.48 L428.2,290.06 L431.2,289.64 L434.2,289.23 L437.2,288.83 L440.2,288.43 L443.2,288.04 L446.2,287.65 L449.2,287.27 L452.2,286.90 L455.2,286.52 L458.2,286.16 L461.2,285.80 L464.2,285.44 L467.2,285.09 L470.2,284.74 L473.2,284.39 L476.2,284.05 L479.2,283.72 L482.2,283.39 L485.2,283.06 L488.2,282.73 L491.2,282.41 L494.2,282.09 L497.2,281.78 L500.2,281.47 L503.2,281.16 L506.2,280.85 L509.2,280.55 L512.2,280.25 L515.2,279.95 L518.2,279.65 L521.2,279.36 L524.2,279.07 L527.2,278.78 L530.2,278.49 L533.2,278.20 L536.2,277.91 L539.2,277.63 L542.2,277.35 L545.2,277.07 L548.2,276.79 L551.2,276.51 L554.2,276.23 L557.2,275.95 L560.2,275.67 L563.2,275.39 L566.2,275.12 L569.2,274.84 L572.2,274.56 L575.2,274.28 L578.2,274.00 L581.2,273.73 L584.2,273.45 L587.2,273.17 L590.2,272.89 L593.2,272.61 L596.2,272.32 L599.2,272.04 L602.2,271.75 L604.9,271.50" stroke="#E5384A"/>
<path d="M116.2,328.29 L119.2,326.88 L122.2,325.55 L125.2,324.28 L128.2,323.08 L131.2,321.95 L134.2,320.87 L137.2,319.85 L140.2,318.88 L143.2,317.96 L146.2,317.09 L149.2,316.26 L152.2,315.47 L155.2,314.72 L158.2,314.00 L161.2,313.31 L164.2,312.64 L167.2,312.00 L170.2,311.38 L173.2,310.77 L176.2,310.18 L179.2,309.60 L182.2,309.02 L185.2,308.45 L188.2,307.87 L191.2,307.30 L194.2,306.72 L197.2,306.15 L200.2,305.57 L203.2,304.99 L206.2,304.41 L209.2,303.82 L212.2,303.24 L215.2,302.65 L218.2,302.07 L221.2,301.48 L224.2,300.89 L227.2,300.29 L230.2,299.70 L233.2,299.11 L236.2,298.51 L239.2,297.91 L242.2,297.31 L245.2,296.70 L248.2,296.10 L251.2,295.49 L254.2,294.89 L257.2,294.28 L260.2,293.67 L263.2,293.06 L266.2,292.45 L269.2,291.84 L272.2,291.23 L275.2,290.62 L278.2,290.00 L281.2,289.39 L284.2,288.78 L287.2,288.17 L290.2,287.56 L293.2,286.95 L296.2,286.34 L299.2,285.73 L302.2,285.13 L305.2,284.52 L308.2,283.92 L311.2,283.31 L314.2,282.71 L317.2,282.12 L320.2,281.52 L323.2,280.93 L326.2,280.33 L329.2,279.74 L332.2,279.16 L335.2,278.58 L338.2,277.99 L341.2,277.42 L344.2,276.84 L347.2,276.27 L350.2,275.71 L353.2,275.14 L356.2,274.58 L359.2,274.03 L362.2,273.48 L365.2,272.93 L368.2,272.39 L371.2,271.85 L374.2,271.32 L377.2,270.79 L380.2,270.27 L383.2,269.75 L386.2,269.24 L389.2,268.74 L392.2,268.24 L395.2,267.74 L398.2,267.26 L401.2,266.77 L404.2,266.30 L407.2,265.83 L410.2,265.37 L413.2,264.91 L416.2,264.47 L419.2,264.02 L422.2,263.59 L425.2,263.16 L428.2,262.75 L431.2,262.34 L434.2,261.93 L437.2,261.53 L440.2,261.15 L443.2,260.76 L446.2,260.39 L449.2,260.02 L452.2,259.65 L455.2,259.29 L458.2,258.94 L461.2,258.59 L464.2,258.25 L467.2,257.92 L470.2,257.59 L473.2,257.26 L476.2,256.94 L479.2,256.63 L482.2,256.31 L485.2,256.01 L488.2,255.70 L491.2,255.40 L494.2,255.11 L497.2,254.82 L500.2,254.53 L503.2,254.24 L506.2,253.96 L509.2,253.68 L512.2,253.40 L515.2,253.13 L518.2,252.85 L521.2,252.58 L524.2,252.32 L527.2,252.05 L530.2,251.78 L533.2,251.52 L536.2,251.26 L539.2,251.00 L542.2,250.74 L545.2,250.48 L548.2,250.22 L551.2,249.96 L554.2,249.70 L557.2,249.44 L560.2,249.19 L563.2,248.93 L566.2,248.67 L569.2,248.41 L572.2,248.15 L575.2,247.88 L578.2,247.62 L581.2,247.36 L584.2,247.09 L587.2,246.82 L590.2,246.55 L593.2,246.28 L596.2,246.01 L599.2,245.73 L602.2,245.45 L604.9,245.20" stroke="#E0283E"/>
</g>
<g stroke="#000" stroke-width="1.8" fill="none" stroke-linecap="butt">
<rect x="116.0" y="1.4" width="567.2" height="456.8"/>
<line x1="116.20" y1="458.2" x2="116.20" y2="467.0"/>
<line x1="213.94" y1="458.2" x2="213.94" y2="467.0"/>
<line x1="311.68" y1="458.2" x2="311.68" y2="467.0"/>
<line x1="409.42" y1="458.2" x2="409.42" y2="467.0"/>
<line x1="507.16" y1="458.2" x2="507.16" y2="467.0"/>
<line x1="604.90" y1="458.2" x2="604.90" y2="467.0"/>
<line x1="165.07" y1="458.2" x2="165.07" y2="462.8"/>
<line x1="262.81" y1="458.2" x2="262.81" y2="462.8"/>
<line x1="360.55" y1="458.2" x2="360.55" y2="462.8"/>
<line x1="458.29" y1="458.2" x2="458.29" y2="462.8"/>
<line x1="556.03" y1="458.2" x2="556.03" y2="462.8"/>
<line x1="116.0" y1="405.49" x2="107.0" y2="405.49"/>
<line x1="116.0" y1="317.64" x2="107.0" y2="317.64"/>
<line x1="116.0" y1="229.79" x2="107.0" y2="229.79"/>
<line x1="116.0" y1="141.94" x2="107.0" y2="141.94"/>
<line x1="116.0" y1="54.09" x2="107.0" y2="54.09"/>
<line x1="116.0" y1="449.41" x2="111.5" y2="449.41"/>
<line x1="116.0" y1="361.56" x2="111.5" y2="361.56"/>
<line x1="116.0" y1="273.72" x2="111.5" y2="273.72"/>
<line x1="116.0" y1="185.87" x2="111.5" y2="185.87"/>
<line x1="116.0" y1="98.02" x2="111.5" y2="98.02"/>
<line x1="116.0" y1="10.17" x2="111.5" y2="10.17"/>
</g>
<g font-size="26.5" fill="#000" stroke="#000" stroke-width="0.5" stroke-linejoin="round">
<text transform="translate(116.20,493.8) scale(1,1.04)" text-anchor="middle">0</text>
<text transform="translate(213.94,493.8) scale(1,1.04)" text-anchor="middle">1</text>
<text transform="translate(311.68,493.8) scale(1,1.04)" text-anchor="middle">2</text>
<text transform="translate(409.42,493.8) scale(1,1.04)" text-anchor="middle">3</text>
<text transform="translate(507.16,493.8) scale(1,1.04)" text-anchor="middle">4</text>
<text transform="translate(604.90,493.8) scale(1,1.04)" text-anchor="middle">5</text>
<text transform="translate(101.3,413.29) scale(1,1.04)" text-anchor="end">0.5</text>
<text transform="translate(101.3,325.44) scale(1,1.04)" text-anchor="end">1.0</text>
<text transform="translate(101.3,237.59) scale(1,1.04)" text-anchor="end">1.5</text>
<text transform="translate(101.3,149.74) scale(1,1.04)" text-anchor="end">2.0</text>
<text transform="translate(101.3,61.89) scale(1,1.04)" text-anchor="end">2.5</text>
</g>
<text transform="translate(400.7,530.7) scale(1,1.04)" font-size="30.25" text-anchor="middle" fill="#000" stroke="#000" stroke-width="0.6" stroke-linejoin="round">Pressure (GPa)</text>
<text transform="translate(42.9,412.4) rotate(-90) scale(1,1.04)" font-size="29.6" fill="#000" stroke="#000" stroke-width="0.6" stroke-linejoin="round" xml:space="preserve"><tspan dx="-0.80">PR-</tspan><tspan font-size="31.40">Δ</tspan><tspan dx="0.20" font-size="29.60">W</tspan><tspan dx="0.40" dy="7.88" font-size="19.50">F</tspan><tspan dx="7.00" dy="-7.88" font-size="25.40">(</tspan><tspan font-size="29.60">H</tspan><tspan dx="0.50" dy="7.88" font-size="19.50">2</tspan><tspan dx="0.60" dy="-7.88" font-size="29.60">O</tspan><tspan dx="0.40"> - </tspan><tspan dx="0.40">minerals</tspan><tspan dx="1.30" font-size="25.40">)</tspan><tspan dx="8.00" font-size="29.60">(</tspan><tspan dx="0.50">e</tspan><tspan dx="0.80">V</tspan><tspan dx="0.50">)</tspan></text>
<path d="M12.0,322.6 L2.6,327.5 L12.0,332.4" fill="none" stroke="#000" stroke-width="2.3" stroke-linejoin="miter"/>
<g stroke-width="3.3" stroke-linecap="round" fill="none">
<line x1="124.1" y1="18.00" x2="161.4" y2="18.00" stroke="#E0283E"/>
<line x1="124.1" y1="42.70" x2="161.4" y2="42.70" stroke="#E5384A"/>
<line x1="124.1" y1="67.40" x2="161.4" y2="67.40" stroke="#EE5A66"/>
<line x1="124.1" y1="92.10" x2="161.4" y2="92.10" stroke="#008A14"/>
<line x1="124.1" y1="116.80" x2="161.4" y2="116.80" stroke="#5AC84A"/>
<line x1="124.1" y1="141.50" x2="161.4" y2="141.50" stroke="#96E38C"/>
<line x1="305.8" y1="18.30" x2="343.3" y2="18.30" stroke="#66400E"/>
<line x1="305.8" y1="43.00" x2="343.3" y2="43.00" stroke="#BE5A06"/>
<line x1="305.8" y1="67.70" x2="343.3" y2="67.70" stroke="#F2942C"/>
<line x1="305.8" y1="92.40" x2="343.3" y2="92.40" stroke="#3560B4"/>
<line x1="305.8" y1="117.10" x2="343.3" y2="117.10" stroke="#4A80C6"/>
<line x1="305.8" y1="141.80" x2="343.3" y2="141.80" stroke="#69A2D6"/>
<line x1="577.4" y1="18.2" x2="615.1" y2="18.2" stroke="#000000"/>
<line x1="577.4" y1="44.1" x2="617.0" y2="44.1" stroke="#808080"/>
<line x1="577.4" y1="70.3" x2="617.0" y2="70.3" stroke="#C8C8C8"/>
</g>
<g font-size="17.35" fill="#000" stroke="#000" stroke-width="0.35" stroke-linejoin="round">
<text transform="translate(167.0,23.50) scale(1,1.04)">CaFe(SiO<tspan dy="4.68" font-size="11.45">4</tspan><tspan dy="-4.68">)</tspan></text>
<text transform="translate(167.0,48.20) scale(1,1.04)">MgFe(SiO<tspan dy="4.68" font-size="11.45">4</tspan><tspan dy="-4.68">)</tspan></text>
<text transform="translate(167.0,72.90) scale(1,1.04)">Fe<tspan dy="4.68" font-size="11.45">2</tspan><tspan dy="-4.68">(SiO</tspan><tspan dy="4.68" font-size="11.45">4</tspan><tspan dy="-4.68">)</tspan></text>
<text transform="translate(167.0,97.60) scale(1,1.04)">CaMn<tspan dy="4.68" font-size="11.45">3</tspan><tspan dy="-4.68">Fe(Si</tspan><tspan dy="4.68" font-size="11.45">3</tspan><tspan dy="-4.68">O</tspan><tspan dy="4.68" font-size="11.45">15</tspan><tspan dy="-4.68">)</tspan></text>
<text transform="translate(167.0,122.30) scale(1,1.04)">CaFe(Si<tspan dy="4.68" font-size="11.45">2</tspan><tspan dy="-4.68">O</tspan><tspan dy="4.68" font-size="11.45">6</tspan><tspan dy="-4.68">)</tspan></text>
<text transform="translate(167.0,147.00) scale(1,1.04)">Fe<tspan dy="4.68" font-size="11.45">2</tspan><tspan dy="-4.68">(Si</tspan><tspan dy="4.68" font-size="11.45">2</tspan><tspan dy="-4.68">O</tspan><tspan dy="4.68" font-size="11.45">6</tspan><tspan dy="-4.68">)</tspan></text>
<text transform="translate(348.7,23.80) scale(1,1.04)">Na<tspan dy="4.68" font-size="11.45">2</tspan><tspan dy="-4.68">Fe</tspan><tspan dy="4.68" font-size="11.45">3</tspan><tspan dy="-4.68">Al</tspan><tspan dy="4.68" font-size="11.45">2</tspan><tspan dy="-4.68">Si</tspan><tspan dy="4.68" font-size="11.45">8</tspan><tspan dy="-4.68">O</tspan><tspan dy="4.68" font-size="11.45">22</tspan><tspan dy="-4.68">(OH)</tspan><tspan dy="4.68" font-size="11.45">2</tspan></text>
<text transform="translate(348.7,48.50) scale(1,1.04)">Ca<tspan dy="4.68" font-size="11.45">2</tspan><tspan dy="-4.68">(Fe</tspan><tspan dy="4.68" font-size="11.45">4</tspan><tspan dy="-4.68">Al)(Si</tspan><tspan dy="4.68" font-size="11.45">7</tspan><tspan dy="-4.68">Al)O</tspan><tspan dy="4.68" font-size="11.45">22</tspan><tspan dy="-4.68">(OH)</tspan><tspan dy="4.68" font-size="11.45">2</tspan></text>
<text transform="translate(348.7,73.20) scale(1,1.04)">Ca<tspan dy="4.68" font-size="11.45">2</tspan><tspan dy="-4.68">(Mg</tspan><tspan dy="4.68" font-size="11.45">1.25</tspan><tspan dy="-4.68">Fe</tspan><tspan dy="4.68" font-size="11.45">3.75</tspan><tspan dy="-4.68">)Si</tspan><tspan dy="4.68" font-size="11.45">8</tspan><tspan dy="-4.68">O</tspan><tspan dy="4.68" font-size="11.45">22</tspan><tspan dy="-4.68">(OH)</tspan><tspan dy="4.68" font-size="11.45">2</tspan></text>
<text transform="translate(348.7,97.90) scale(1,1.04)">FeAl<tspan dy="4.68" font-size="11.45">2</tspan><tspan dy="-4.68">O(SiO</tspan><tspan dy="4.68" font-size="11.45">4</tspan><tspan dy="-4.68">)(OH)</tspan><tspan dy="4.68" font-size="11.45">2</tspan></text>
<text transform="translate(348.7,122.60) scale(1,1.04)">Fe<tspan dy="4.68" font-size="11.45">3</tspan><tspan dy="-4.68">Si</tspan><tspan dy="4.68" font-size="11.45">4</tspan><tspan dy="-4.68">O</tspan><tspan dy="4.68" font-size="11.45">10</tspan><tspan dy="-4.68">(OH)</tspan><tspan dy="4.68" font-size="11.45">2</tspan></text>
<text transform="translate(348.7,147.30) scale(1,1.04)">Fe<tspan dy="4.68" font-size="11.45">3</tspan><tspan dy="-4.68">Si</tspan><tspan dy="4.68" font-size="11.45">2</tspan><tspan dy="-4.68">O</tspan><tspan dy="4.68" font-size="11.45">5</tspan><tspan dy="-4.68">(OH)</tspan><tspan dy="4.68" font-size="11.45">4</tspan></text>
<text transform="translate(620.6,24.2) scale(1,1.04)" font-size="17">FeO</text>
<text transform="translate(622.3,50.2) scale(1,1.04)" font-size="18.4">Fe<tspan dy="4.97" font-size="12.14">3</tspan><tspan dy="-4.97">O</tspan><tspan dy="4.97" font-size="12.14">4</tspan></text>
<text transform="translate(622.3,76.6) scale(1,1.04)" font-size="18.4">FeCO<tspan dy="4.97" font-size="12.14">3</tspan></text>
</g>
<g font-size="22" stroke-width="0.5" stroke-linejoin="round">
<text transform="translate(613.4,151.9) scale(1,1.04)" fill="#000" stroke="#000">Wus</text>
<text transform="translate(613.8,233.0) scale(1,1.04)" fill="#848484" stroke="#848484">Mt</text>
<text transform="translate(634.0,267.7) scale(1,1.04)" fill="#E0283E" stroke="#E0283E">Ol</text>
<text transform="translate(632.0,319.8) scale(1,1.04)" fill="#008A14" stroke="#008A14">Px</text>
<text transform="translate(632.9,340.6) scale(1,1.04)" fill="#F08A1E" stroke="#F08A1E">Hbl</text>
<text transform="translate(633.3,364.2) scale(1,1.04)" fill="#3560B4" stroke="#3560B4">PLS</text>
<text transform="translate(615.2,416.5) scale(1,1.04)" fill="#C8C8C8" stroke="#C8C8C8">Sd</text>
</g>
<path d="M612.2,243.2 L619.7,243.6 Q620.7,243.7 620.7,244.7 L620.7,276.0 Q620.7,277.0 619.7,277.1 L612.2,277.5 M620.7,260.1 L628.9,260.1" fill="none" stroke="#E02828" stroke-width="2.4" stroke-linecap="butt" stroke-linejoin="round"/>
<path d="M611.9,307.4 L618.8,307.79999999999995 Q619.8,307.9 619.8,308.9 L619.8,324.4 Q619.8,325.4 618.8,325.5 L611.9,325.9 M619.8,317.1 L628.5,317.1" fill="none" stroke="#008A14" stroke-width="2.4" stroke-linecap="butt" stroke-linejoin="round"/>
<path d="M611.9,327.6 L619.2,328.0 Q620.0,328.1 620.0,328.90000000000003 L620.0,336.2 Q620.0,337.0 619.2,337.1 L611.9,337.5 M620.0,332.5 L628.5,332.5" fill="none" stroke="#F08A1E" stroke-width="2.4" stroke-linecap="butt" stroke-linejoin="round"/>
<path d="M611.9,342.4 L619.6,342.79999999999995 Q620.6,342.9 620.6,343.9 L620.6,367.7 Q620.6,368.7 619.6,368.8 L611.9,369.2 M620.6,355.8 L628.8,355.8" fill="none" stroke="#3560B4" stroke-width="2.4" stroke-linecap="butt" stroke-linejoin="round"/>
</svg>
</body></html>
